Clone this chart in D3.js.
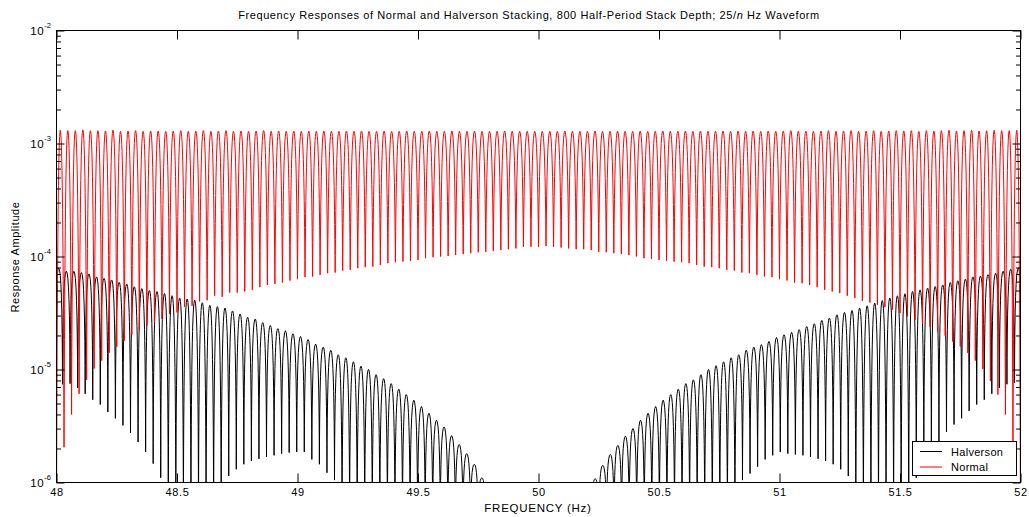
<!DOCTYPE html>
<html><head><meta charset="utf-8">
<script src="https://cdn.jsdelivr.net/npm/d3@7"></script>
<style>
html,body{margin:0;padding:0;background:#fff;}
svg{display:block;font-family:"Liberation Sans",Arial,Helvetica,sans-serif;}
</style></head><body>
<svg id="chart" width="1029" height="517"></svg>
<script>
// ---------------- DATA ----------------
const titleText = "Frequency Responses of Normal and Halverson Stacking, 800 Half-Period Stack Depth; 25/";
const xLabel = "FREQUENCY (Hz)";
const yLabel = "Response Amplitude";
const freqDomain = [48, 52];
const ampDomain = [1e-6, 1e-2];
const xTicks = [48, 48.5, 49, 49.5, 50, 50.5, 51, 51.5, 52];
const xTickLabels = ["48", "48.5", "49", "49.5", "50", "50.5", "51", "51.5", "52"];
const yTicks = [1e-6, 1e-5, 1e-4, 1e-3, 1e-2];
const yTickExponents = ["-6", "-5", "-4", "-3", "-2"];
const seriesNames = ["Halverson", "Normal"];
const seriesColors = ["#000000", "#ff0000"];

// Normal stacking: nulls at 48 + k/32 Hz (k = 0..128), peaks midway (null = below 1e-6)
const normalStart = 48, normalStep = 1 / 32;
const normalNulls = [
  null, 2.05e-6, 4.0e-6, 6.1e-6, 8.1e-6, 1.02e-5, 1.2e-5, 1.41e-5, 1.59e-5, 1.8e-5,
  2.03e-5, 2.25e-5, 2.44e-5, 2.6e-5, 2.8e-5, 3.1e-5, 3.2e-5, 3.6e-5, 3.66e-5, 4.0e-5,
  4.1e-5, 4.49e-5, 4.4e-5, 4.8e-5, 4.8e-5, 4.9e-5, 5.07e-5, 5.36e-5, 5.6e-5, 5.73e-5,
  5.88e-5, 6.13e-5, 6.3e-5, 6.57e-5, 6.65e-5, 6.88e-5, 7.12e-5, 7.21e-5, 7.5e-5, 7.62e-5,
  7.88e-5, 8.05e-5, 8.14e-5, 8.43e-5, 8.73e-5, 8.9e-5, 9.0e-5, 9.15e-5, 9.33e-5, 9.66e-5,
  9.86e-5, 1.0e-4, 1.01e-4, 1.03e-4, 1.05e-4, 1.07e-4, 1.09e-4, 1.1e-4, 1.12e-4, 1.14e-4,
  1.16e-4, 1.18e-4, 1.22e-4, 1.22e-4, 1.22e-4, 1.24e-4, 1.22e-4, 1.2e-4, 1.18e-4, 1.16e-4,
  1.16e-4, 1.14e-4, 1.1e-4, 1.09e-4, 1.07e-4, 1.05e-4, 1.03e-4, 1.0e-4, 9.66e-5, 9.5e-5,
  9.33e-5, 9.15e-5, 9.0e-5, 8.9e-5, 8.73e-5, 8.43e-5, 8.14e-5, 8.05e-5, 7.88e-5, 7.62e-5,
  7.5e-5, 7.21e-5, 7.12e-5, 6.88e-5, 6.65e-5, 6.57e-5, 6.3e-5, 6.13e-5, 5.88e-5, 5.8e-5,
  5.6e-5, 5.36e-5, 5.07e-5, 4.9e-5, 4.74e-5, 4.49e-5, 4.29e-5, 4.06e-5, 3.92e-5, 3.74e-5,
  3.57e-5, 3.38e-5, 3.16e-5, 2.95e-5, 2.76e-5, 2.54e-5, 2.38e-5, 2.17e-5, 1.99e-5, 1.77e-5,
  1.6e-5, 1.4e-5, 1.2e-5, 1.01e-5, 7.9e-6, 6.0e-6, 4.0e-6, 2.05e-6, null
];
const normalPeaks = [
  1.31e-3, 1.30e-3, 1.30e-3, 1.32e-3, 1.30e-3, 1.30e-3, 1.29e-3, 1.31e-3, 1.28e-3, 1.29e-3, 1.30e-3, 1.28e-3, 1.29e-3, 1.29e-3, 1.28e-3, 1.29e-3,
  1.30e-3, 1.28e-3, 1.29e-3, 1.30e-3, 1.28e-3, 1.29e-3, 1.30e-3, 1.28e-3, 1.29e-3, 1.28e-3, 1.29e-3, 1.30e-3, 1.28e-3, 1.29e-3, 1.28e-3, 1.29e-3,
  1.28e-3, 1.29e-3, 1.28e-3, 1.29e-3, 1.28e-3, 1.28e-3, 1.29e-3, 1.28e-3, 1.29e-3, 1.28e-3, 1.28e-3, 1.29e-3, 1.28e-3, 1.28e-3, 1.29e-3, 1.28e-3,
  1.28e-3, 1.29e-3, 1.28e-3, 1.28e-3, 1.29e-3, 1.28e-3, 1.28e-3, 1.29e-3, 1.28e-3, 1.28e-3, 1.28e-3, 1.29e-3, 1.28e-3, 1.28e-3, 1.28e-3, 1.28e-3,
  1.28e-3, 1.28e-3, 1.28e-3, 1.29e-3, 1.28e-3, 1.28e-3, 1.28e-3, 1.29e-3, 1.28e-3, 1.28e-3, 1.29e-3, 1.28e-3, 1.28e-3, 1.29e-3, 1.28e-3, 1.28e-3,
  1.29e-3, 1.28e-3, 1.28e-3, 1.29e-3, 1.28e-3, 1.29e-3, 1.28e-3, 1.28e-3, 1.29e-3, 1.28e-3, 1.29e-3, 1.28e-3, 1.29e-3, 1.28e-3, 1.29e-3, 1.28e-3,
  1.29e-3, 1.30e-3, 1.28e-3, 1.29e-3, 1.28e-3, 1.29e-3, 1.30e-3, 1.28e-3, 1.29e-3, 1.30e-3, 1.28e-3, 1.29e-3, 1.30e-3, 1.28e-3, 1.29e-3, 1.30e-3,
  1.29e-3, 1.30e-3, 1.28e-3, 1.30e-3, 1.29e-3, 1.30e-3, 1.31e-3, 1.29e-3, 1.30e-3, 1.31e-3, 1.29e-3, 1.30e-3, 1.31e-3, 1.30e-3, 1.30e-3, 1.31e-3
];

// Halverson stacking: nulls at 50 + j*step Hz (j = -64..64), peaks midway (null = below 1e-6)
const halversonCenter = 50, halversonStep = 0.03135;
const halversonNulls = [
  7.6e-6, 7.4e-6, 7.5e-6, 6.9e-6, 6.1e-6, 5.4e-6, 4.9e-6, 4.2e-6, 3.7e-6, 3.2e-6,
  2.75e-6, 2.28e-6, 1.86e-6, 1.47e-6, 1.1e-6, null, null, null, null, null,
  null, null, null, 1.14e-6, 1.31e-6, 1.45e-6, 1.55e-6, 1.62e-6, 1.69e-6, 1.74e-6,
  1.8e-6, 1.84e-6, 1.86e-6, 1.86e-6, 1.6e-6, 1.45e-6, 1.22e-6, 1.05e-6, null, null,
  null, null, null, null, null, null, null, null, null, null,
  null, null, null, null, null, null, null, null, null, null,
  null, null, null, null, null, null, null, null, null, null,
  null, null, null, null, null, null, null, null, null, null,
  null, null, null, null, null, null, null, null, null, null,
  null, 1.05e-6, 1.2e-6, 1.38e-6, 1.6e-6, 1.74e-6, 1.86e-6, 1.8e-6, 1.77e-6, 1.74e-6,
  1.69e-6, 1.62e-6, 1.55e-6, 1.45e-6, 1.31e-6, 1.14e-6, null, null, null, null,
  null, null, null, null, 1.1e-6, 1.47e-6, 1.86e-6, 2.28e-6, 2.8e-6, 3.26e-6,
  3.7e-6, 4.3e-6, 4.9e-6, 5.4e-6, 6.1e-6, 6.9e-6, 7.4e-6, 7.6e-6, 7.6e-6
];
const halversonPeaks = [
  7.9e-5, 7.4e-5, 7.4e-5, 7.2e-5, 7.0e-5, 6.6e-5, 6.4e-5, 6.2e-5, 5.9e-5, 5.7e-5,
  5.4e-5, 5.2e-5, 5.0e-5, 4.9e-5, 4.7e-5, 4.5e-5, 4.3e-5, 4.2e-5, 4.1e-5, 3.9e-5,
  3.7e-5, 3.6e-5, 3.5e-5, 3.3e-5, 3.1e-5, 2.9e-5, 2.8e-5, 2.6e-5, 2.45e-5, 2.3e-5,
  2.2e-5, 2.07e-5, 1.96e-5, 1.84e-5, 1.68e-5, 1.58e-5, 1.48e-5, 1.35e-5, 1.27e-5, 1.17e-5,
  1.07e-5, 1.0e-5, 9.0e-6, 8.3e-6, 7.5e-6, 6.7e-6, 6.0e-6, 5.35e-6, 4.7e-6, 4.1e-6,
  3.56e-6, 3.1e-6, 2.6e-6, 2.17e-6, 1.8e-6, 1.45e-6, 1.1e-6, null, null, null,
  null, null, null, null, null, null, null, null, null, null,
  null, 1.08e-6, 1.42e-6, 1.77e-6, 2.13e-6, 2.57e-6, 3.0e-6, 3.56e-6, 4.1e-6, 4.7e-6,
  5.35e-6, 6.0e-6, 6.7e-6, 7.5e-6, 8.1e-6, 9.0e-6, 1.0e-5, 1.08e-5, 1.17e-5, 1.27e-5,
  1.35e-5, 1.48e-5, 1.58e-5, 1.66e-5, 1.77e-5, 1.92e-5, 2.03e-5, 2.13e-5, 2.25e-5, 2.4e-5,
  2.54e-5, 2.72e-5, 2.85e-5, 3.05e-5, 3.2e-5, 3.33e-5, 3.5e-5, 3.66e-5, 3.87e-5, 4.08e-5,
  4.29e-5, 4.49e-5, 4.68e-5, 4.9e-5, 5.07e-5, 5.25e-5, 5.42e-5, 5.6e-5, 5.88e-5, 6.1e-5,
  6.3e-5, 6.6e-5, 6.7e-5, 6.9e-5, 7.1e-5, 7.4e-5, 7.7e-5, 7.9e-5
];

// ---------------- DRAW ----------------
const svg = d3.select("#chart");
const PL = 56.5, PR = 1020.5, PT = 30.5, PB = 482.5;
const x = d3.scaleLinear().domain(freqDomain).range([PL, PR]);
const y = d3.scaleLog().domain(ampDomain).range([PB, PT]);

function buildSeries(start, step, nulls, peaks) {
  const pts = [];
  for (let i = 0; i < peaks.length; i++) {
    pts.push({ f: start + i * step, v: nulls[i] });
    pts.push({ f: start + (i + 0.5) * step, v: peaks[i] });
  }
  pts.push({ f: start + peaks.length * step, v: nulls[peaks.length] });
  return pts;
}
const halvPts = buildSeries(halversonCenter - 64 * halversonStep, halversonStep, halversonNulls, halversonPeaks);
const normPts = buildSeries(normalStart, normalStep, normalNulls, normalPeaks);

// Curve: rounded tops at the peaks, sharp cusps at the nulls (a = control offset from the null side)
function curveLobe(a) {
  return function (context) {
    let px, py, n = 0;
    return {
      areaStart() {}, areaEnd() {},
      lineStart() { n = 0; },
      lineEnd() {},
      point(xx, yy) {
        if (n++ === 0) context.moveTo(xx, yy);
        else {
          const dx = xx - px;
          if (py > yy) context.quadraticCurveTo(px + a * dx, yy, xx, yy);   // rising to a peak
          else context.quadraticCurveTo(xx - a * dx, py, xx, yy);          // falling to a null
        }
        px = xx; py = yy;
      }
    };
  };
}
const curveShape = [0.08, 0.28];

const belowY = y.range()[0] + 40;

svg.append("defs").append("clipPath").attr("id", "plotclip")
  .append("rect").attr("x", PL).attr("y", PT).attr("width", PR - PL).attr("height", PB - PT);

const plot = svg.append("g").attr("clip-path", "url(#plotclip)");
[halvPts, normPts].forEach((pts, i) => {
  const line = d3.line()
    .x(d => x(d.f))
    .y(d => d.v == null ? belowY : y(d.v))
    .curve(curveLobe(curveShape[i]));
  plot.append("path").datum(pts)
    .attr("d", line)
    .attr("fill", "none")
    .attr("stroke", seriesColors[i])
    .attr("stroke-width", 1);
});

// Axes (ticks inside, MATLAB style)
const minorTicks = y.ticks().filter(v => !yTicks.some(t => Math.abs(t - v) / t < 1e-6));
function clean(g) { g.select(".domain").remove(); g.selectAll("line").attr("stroke", "#000"); }

svg.append("g").attr("transform", `translate(0,${PB})`)
  .call(d3.axisBottom(x).tickValues(xTicks).tickSize(-9).tickPadding(6)
    .tickFormat((d, i) => xTickLabels[i]))
  .call(clean)
  .call(g => g.selectAll("text").attr("font-size", 11).attr("fill", "#000")
    .attr("letter-spacing", "0.6px")
    .attr("font-family", "'Liberation Sans',Arial,sans-serif"));
svg.append("g").attr("transform", `translate(0,${PT})`)
  .call(d3.axisTop(x).tickValues(xTicks).tickSize(-9).tickFormat(""))
  .call(clean);
[[d3.axisLeft, PL], [d3.axisRight, PR]].forEach(([ax, px]) => {
  svg.append("g").attr("transform", `translate(${px},0)`)
    .call(ax(y).tickValues(yTicks).tickSize(-8).tickFormat("")).call(clean);
  svg.append("g").attr("transform", `translate(${px},0)`)
    .call(ax(y).tickValues(minorTicks).tickSize(-4.5).tickFormat("")).call(clean);
});

svg.append("rect").attr("x", PL).attr("y", PT).attr("width", PR - PL).attr("height", PB - PT)
  .attr("fill", "none").attr("stroke", "#000").attr("stroke-width", 1);

// Y tick labels with superscripts
yTicks.forEach((v, i) => {
  const t = svg.append("text").attr("x", 51).attr("y", y(v) + 4)
    .attr("text-anchor", "end").attr("font-size", 11.5).attr("fill", "#000");
  t.append("tspan").attr("letter-spacing", "0.6px").text("10");
  t.append("tspan").attr("dy", -7).attr("font-size", 7.5).text(yTickExponents[i]);
});

// Title
const title = svg.append("text").attr("x", 529).attr("y", 19)
  .attr("text-anchor", "middle").attr("font-size", 11).attr("letter-spacing", "0.6px").attr("fill", "#000");
title.append("tspan").text(titleText);
title.append("tspan").attr("font-style", "italic").text("n");
title.append("tspan").text(" Hz Waveform");

svg.append("text").attr("x", 538).attr("y", 512).attr("text-anchor", "middle")
  .attr("font-size", 11.5).attr("letter-spacing", "0.75px").attr("fill", "#000").text(xLabel);
svg.append("text").attr("transform", "translate(19,257) rotate(-90)").attr("text-anchor", "middle")
  .attr("font-size", 11).attr("letter-spacing", "0.55px").attr("fill", "#000").text(yLabel);

// Legend
const lg = svg.append("g");
lg.append("rect").attr("x", 912.5).attr("y", 441.5).attr("width", 104).attr("height", 34)
  .attr("fill", "#fff").attr("stroke", "#000").attr("stroke-width", 1);
seriesNames.forEach((name, i) => {
  const yy = 451.5 + i * 15.5;
  lg.append("line").attr("x1", 920).attr("x2", 942).attr("y1", yy).attr("y2", yy)
    .attr("stroke", seriesColors[i]).attr("stroke-width", 1);
  lg.append("text").attr("x", 951).attr("y", yy + 4).attr("font-size", 11)
    .attr("letter-spacing", "0.3px").attr("fill", "#000").text(name);
});
</script></body></html>
